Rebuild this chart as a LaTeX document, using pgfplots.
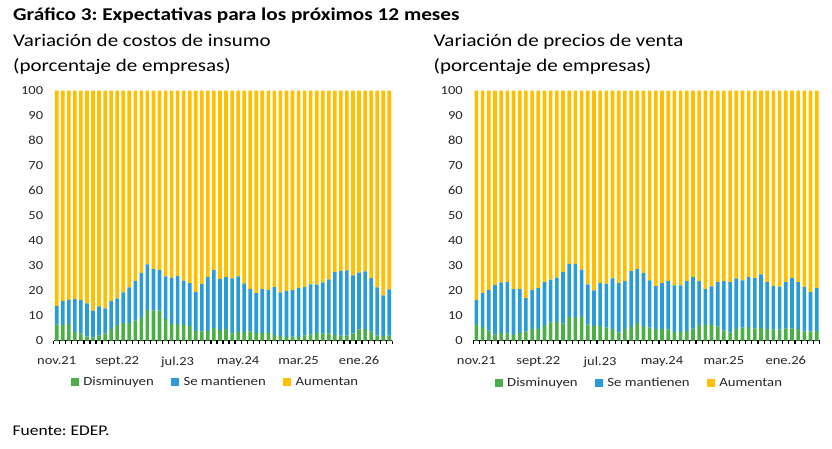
\documentclass[border=0pt]{standalone}
\usepackage{fontspec}
\setmainfont{Carlito}[FakeStretch=1.18]
\usepackage{pgfplots}
\usepackage{pgfplotstable}
\pgfplotsset{compat=1.18}
\definecolor{cgreen}{RGB}{76,174,70}
\definecolor{cblue}{RGB}{41,155,215}
\definecolor{cyellow}{RGB}{255,192,0}
\definecolor{ctext}{RGB}{38,38,38}

\pgfplotstableread{
x g b a
0 6.4 7.4 86.2
1 6.3 9.5 84.2
2 6.7 9.6 83.7
3 3.5 13.1 83.4
4 2.9 13.3 83.8
5 1.6 13.3 85.1
6 1.3 10.7 88.0
7 2.0 11.7 86.3
8 2.9 10.0 87.1
9 4.7 11.1 84.2
10 6.2 10.7 83.1
11 7.0 12.3 80.7
12 7.0 14.3 78.7
13 8.0 15.8 76.2
14 9.4 17.6 73.0
15 12.3 18.2 69.5
16 12.0 16.6 71.4
17 12.0 16.2 71.8
18 8.7 17.0 74.3
19 6.7 18.5 74.8
20 6.6 19.2 74.2
21 6.3 17.7 76.0
22 5.8 17.2 77.0
23 3.9 15.5 80.6
24 3.7 18.9 77.4
25 3.9 21.5 74.6
26 5.1 23.1 71.8
27 4.3 20.3 75.4
28 4.7 20.7 74.6
29 2.9 22.0 75.1
30 3.5 22.2 74.3
31 3.5 19.4 77.1
32 3.6 17.1 79.3
33 3.1 15.9 81.0
34 3.1 17.5 79.4
35 3.1 17.1 79.8
36 2.3 19.1 78.6
37 1.9 17.4 80.7
38 1.5 18.3 80.2
39 1.6 18.6 79.8
40 1.5 19.5 79.0
41 2.1 19.3 78.6
42 2.4 20.1 77.5
43 3.1 19.3 77.6
44 2.8 20.5 76.7
45 2.9 21.6 75.5
46 2.3 25.1 72.6
47 2.0 25.8 72.2
48 2.1 26.0 71.9
49 2.9 23.2 73.9
50 4.4 22.8 72.8
51 4.6 23.1 72.3
52 3.7 21.3 75.0
53 2.0 19.3 78.7
54 1.9 16.2 81.9
55 2.0 18.5 79.5
}\costos

\pgfplotstableread{
x g b a
0 6.3 10.0 83.7
1 5.4 13.6 81.0
2 4.0 16.2 79.8
3 2.4 19.8 77.8
4 3.1 20.2 76.7
5 2.9 20.5 76.6
6 2.3 18.3 79.4
7 3.1 17.5 79.4
8 3.6 13.4 83.0
9 4.6 15.6 79.8
10 4.7 16.3 79.0
11 6.2 17.2 76.6
12 7.2 17.2 75.6
13 7.5 17.7 74.8
14 6.8 20.6 72.6
15 9.4 21.3 69.3
16 9.0 21.7 69.3
17 9.8 18.6 71.6
18 6.4 16.1 77.5
19 5.8 14.3 79.9
20 5.8 17.2 77.0
21 5.2 17.6 77.2
22 4.7 20.2 75.1
23 3.3 19.7 77.0
24 4.6 19.2 76.2
25 5.4 22.4 72.2
26 7.0 21.6 71.4
27 5.8 21.2 73.0
28 5.2 18.9 75.9
29 4.6 17.2 78.2
30 4.7 18.3 77.0
31 4.4 19.4 76.2
32 3.5 18.6 77.9
33 3.5 18.6 77.9
34 3.9 19.9 76.2
35 4.8 20.6 74.6
36 6.2 17.6 76.2
37 6.3 14.3 79.4
38 6.3 15.4 78.3
39 5.6 17.8 76.6
40 4.0 19.8 76.2
41 3.3 20.1 76.6
42 4.6 20.3 75.1
43 5.2 18.9 75.9
44 5.5 19.9 74.6
45 4.8 20.2 75.0
46 5.1 21.4 73.5
47 4.6 18.8 76.6
48 4.4 17.4 78.2
49 4.4 17.2 78.4
50 4.8 18.6 76.6
51 4.8 20.2 75.0
52 4.6 18.8 76.6
53 3.7 17.7 78.6
54 3.7 15.7 80.6
55 3.9 17.1 79.0
}\precios

\newcommand\legfont{\fontsize{12.5}{13}\selectfont}
\pgfplotsset{
  panel/.style={
    scale only axis, height=250pt,
    ybar stacked, bar width=3.6pt,
    xmin=-0.5, xmax=55.5, ymin=0, ymax=100,
    axis x line=bottom, axis y line=left,
    x axis line style={-, line width=1.6pt, black},
    y axis line style={draw=none},
    xtick={0,10,20,30,40,50},
    xticklabels={nov.21,sept.22,jul.23,may.24,mar.25,ene.26},
    minor xtick={-0.5,0.5,...,55.5},
    ytick={0,10,...,100},
    major tick length=0pt,
    minor tick length=3.5pt,
    tick align=outside,
    minor x tick style={black, line width=1.2pt},
    ytick style={draw=none},
    /pgf/number format/assume math mode=true,
    tick label style={font=\fontsize{12.3}{13}\selectfont, text=ctext},
    yticklabel style={xshift=-7pt},
    xticklabel style={yshift=-12.5pt},
    legend columns=3,
    legend image code/.code={\fill[##1] (0pt,-4.25pt) rectangle (8pt,4.25pt);},
    legend style={draw=none, fill=none, font=\legfont, text=ctext,
      nodes={inner sep=0pt, font=\legfont, text=ctext},
      /tikz/every odd column/.append style={column sep=4.4pt},
      /tikz/every even column/.append style={column sep=17.3pt},
      anchor=center},
  }
}

\begin{document}
\frenchspacing
\begin{tikzpicture}
\useasboundingbox (0,0) rectangle (832pt,448pt);
\fill[white] (0,0) rectangle (832pt,448pt);

\begin{axis}[panel, width=338.6pt, at={(53.7pt,107.5pt)}, anchor=south west,
  legend style={at={(0.475,-0.166)}}]
\addplot[fill=cgreen, draw=none] table[x=x,y=g]{\costos};
\addplot[fill=cblue, draw=none] table[x=x,y=b]{\costos};
\addplot[fill=cyellow, draw=none] table[x=x,y=a]{\costos};
\legend{Disminuyen, Se mantienen, Aumentan}
\end{axis}

\begin{axis}[panel, width=346.5pt, at={(473.3pt,107.5pt)}, anchor=south west,
  legend style={at={(0.4765,-0.169)}}]
\addplot[fill=cgreen, draw=none] table[x=x,y=g]{\precios};
\addplot[fill=cblue, draw=none] table[x=x,y=b]{\precios};
\addplot[fill=cyellow, draw=none] table[x=x,y=a]{\precios};
\legend{Disminuyen, Se mantienen, Aumentan}
\end{axis}

\node[anchor=base west, inner sep=0pt, font=\bfseries\fontsize{18}{20}\selectfont] at (13pt,427.5pt) {Gráfico 3: Expectativas para los próximos 12 meses};
\node[anchor=base west, inner sep=0pt, font=\fontsize{17.8}{20}\selectfont] at (13pt,401.3pt) {Variación de costos de insumo};
\node[anchor=base west, inner sep=0pt, font=\fontsize{17.8}{20}\selectfont] at (13pt,376.3pt) {(porcentaje de empresas)};
\node[anchor=base west, inner sep=0pt, font=\fontsize{17.8}{20}\selectfont] at (433.5pt,401.3pt) {Variación de precios de venta};
\node[anchor=base west, inner sep=0pt, font=\fontsize{17.8}{20}\selectfont] at (433.5pt,376.3pt) {(porcentaje de empresas)};
\node[anchor=base west, inner sep=0pt, font=\fontsize{14.8}{16}\selectfont] at (12.5pt,13pt) {Fuente: EDEP.};
\end{tikzpicture}
\end{document}
